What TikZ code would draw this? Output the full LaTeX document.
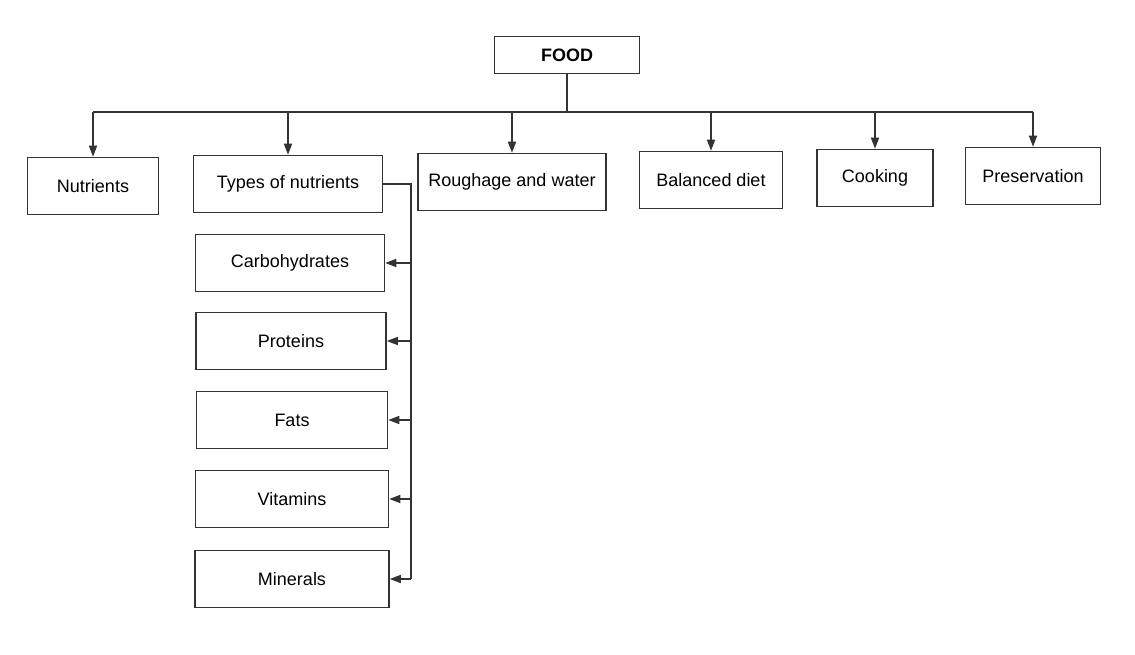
\documentclass[tikz,border=0pt]{standalone}
\usepackage{fontspec}
\setmainfont{Liberation Sans}
\definecolor{ink}{HTML}{333333}
\usetikzlibrary{arrows.meta}

\begin{document}
\begin{tikzpicture}[x=1pt,y=-1pt,>={Triangle[length=11pt,width=8pt]},
  box/.style={draw=ink,line width=1.5pt,fill=white,rectangle,inner sep=2pt,minimum height=57pt,font=\fontsize{18}{21}\selectfont},
  wire/.style={draw=ink,line width=1.5pt}]
\useasboundingbox (0,0) rectangle (1135,655);
\node[box,minimum width=145pt,minimum height=37pt,font=\bfseries\fontsize{18}{21}\selectfont] (food) at (567,55) {FOOD};
\node[box,minimum width=131pt] (nutr) at (93,186) {Nutrients};
\node[box,minimum width=189pt] (types) at (288,184) {Types of nutrients};
\node[box,minimum width=188pt] (rough) at (512,182) {Roughage and water};
\node[box,minimum width=143pt] (diet) at (711,180) {Balanced diet};
\node[box,minimum width=116pt] (cook) at (875,178) {Cooking};
\node[box,minimum width=135pt] (pres) at (1033,176) {Preservation};
\node[box,minimum width=189pt] (carb) at (290,263) {Carbohydrates};
\node[box,minimum width=190pt] (prot) at (291,341) {Proteins};
\node[box,minimum width=191pt] (fats) at (292,420) {Fats};
\node[box,minimum width=193pt] (vita) at (292,499) {Vitamins};
\node[box,minimum width=194pt] (mine) at (292,579) {Minerals};
% bus under FOOD
\coordinate (bus) at (567,112);
\coordinate (spine) at (411,184);
\draw[wire] (food) -- (bus);
\draw[wire] (nutr |- bus) -- (pres |- bus);
\draw[wire,->] (nutr |- bus) -- (nutr);
\draw[wire,->] (types |- bus) -- (types);
\draw[wire,->] (rough |- bus) -- (rough);
\draw[wire,->] (diet |- bus) -- (diet);
\draw[wire,->] (cook |- bus) -- (cook);
\draw[wire,->] (pres |- bus) -- (pres);
% kinds of nutrients
\draw[wire] (types.east) -- (spine) -- (spine |- mine);
\draw[wire,->] (spine |- carb) -- (carb);
\draw[wire,->] (spine |- prot) -- (prot);
\draw[wire,->] (spine |- fats) -- (fats);
\draw[wire,->] (spine |- vita) -- (vita);
\draw[wire,->] (spine |- mine) -- (mine);
\end{tikzpicture}
\end{document}
